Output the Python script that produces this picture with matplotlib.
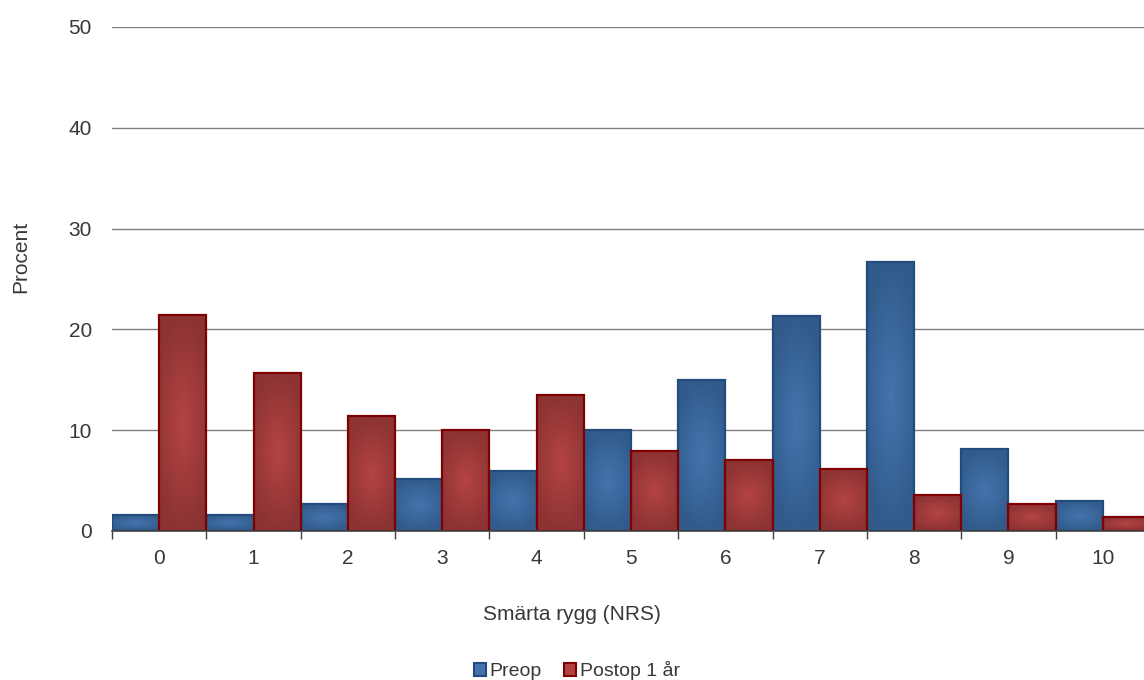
import numpy as np
import matplotlib
matplotlib.use("Agg")
import matplotlib.pyplot as plt
from matplotlib.patches import Patch
from matplotlib.colors import to_rgb

plt.rcParams['font.family'] = ['Liberation Sans', 'DejaVu Sans']

categories = ['0', '1', '2', '3', '4', '5', '6', '7', '8', '9', '10']
preop = [1.6, 1.6, 2.7, 5.2, 6.0, 10.0, 15.0, 21.3, 26.7, 8.1, 3.0]
postop = [21.4, 15.7, 11.4, 10.0, 13.5, 7.9, 7.0, 6.2, 3.6, 2.7, 1.4]
series_names = ['Preop', 'Postop 1 år']

blue_edge = '#234c7e'
blue_dark = np.array(to_rgb('#325b8b'))
blue_light = np.array(to_rgb('#4474ae'))
red_edge = '#7f0000'
red_dark = np.array(to_rgb('#8d3333'))
red_light = np.array(to_rgb('#b44443'))
text_color = '#383838'
FS = 15

fig = plt.figure(figsize=(11.44, 6.8), dpi=100)
ax = fig.add_axes([112/1144, 1-531/680, 1038/1144, 504/680])

n = len(categories)
x = np.arange(n)
w = 0.5

ny, nx = 60, 30
yy, xx = np.mgrid[0:1:ny*1j, 0:1:nx*1j]

def grad_img(light, dark):
    d = np.sqrt(((xx-0.5)/0.5)**2*0.6 + ((yy-0.5)/0.5)**2)
    t = np.clip(d, 0, 1)[..., None]
    return light*(1-t) + dark*t

img_blue = grad_img(blue_light, blue_dark)
img_red = grad_img(red_light, red_dark)

for vals, off, img, edge in [(preop, -0.25, img_blue, blue_edge), (postop, 0.25, img_red, red_edge)]:
    bars = ax.bar(x+off, vals, width=w, facecolor='none', edgecolor=edge, linewidth=1.6, zorder=3)
    for b in bars:
        x0, y0 = b.get_x(), b.get_y()
        bw, bh = b.get_width(), b.get_height()
        im = ax.imshow(img, extent=(x0, x0+bw, y0, y0+bh), origin='lower',
                       aspect='auto', zorder=2.5, interpolation='bilinear')
        im.set_clip_path(b)

ax.set_xlim(-0.5, n-0.5)
ax.set_ylim(0, 50)
ax.set_yticks([0, 10, 20, 30, 40, 50])
ax.set_xticks(x)
ax.set_xticklabels(categories)
ax.set_xticks(np.arange(-0.5, n, 1), minor=True)
ax.tick_params(axis='x', which='major', length=0, pad=13, labelsize=FS, labelcolor=text_color)
ax.tick_params(axis='x', which='minor', length=6, width=1, color='#404040', direction='out')
ax.tick_params(axis='y', length=0, pad=14.4, labelsize=FS, labelcolor=text_color)

ax.grid(axis='y', color='#808080', linewidth=1, zorder=0)
ax.set_axisbelow(True)
for s in ['top', 'right', 'left']:
    ax.spines[s].set_visible(False)
ax.spines['bottom'].set_color('#404040')
ax.spines['bottom'].set_linewidth(1.2)
ax.spines['bottom'].set_zorder(4)

ax.set_xlabel('Smärta rygg (NRS)', fontsize=FS, color=text_color)
ax.xaxis.set_label_coords((572-112)/1038, -(615-531)/504, transform=ax.transAxes)
ax.xaxis.label.set_va('center')
ax.set_ylabel('Procent', fontsize=FS, color=text_color)
ax.yaxis.set_label_coords(-(112-21)/1038, (531-257)/504)
ax.yaxis.label.set_va('center')

handles = [Patch(facecolor=tuple(blue_light), edgecolor=blue_edge, linewidth=1.5, label=series_names[0]),
           Patch(facecolor=tuple(red_light*0.9+red_dark*0.1), edgecolor=red_edge, linewidth=1.5, label=series_names[1])]
fig.legend(handles=handles, loc='center', bbox_to_anchor=(577/1144, 1-671/680), ncol=2, frameon=False,
           fontsize=14, handlelength=0.6, handleheight=0.6, handletextpad=0.2, columnspacing=1.13,
           labelcolor=text_color, borderpad=0)

fig.savefig('out.png', dpi=100)
